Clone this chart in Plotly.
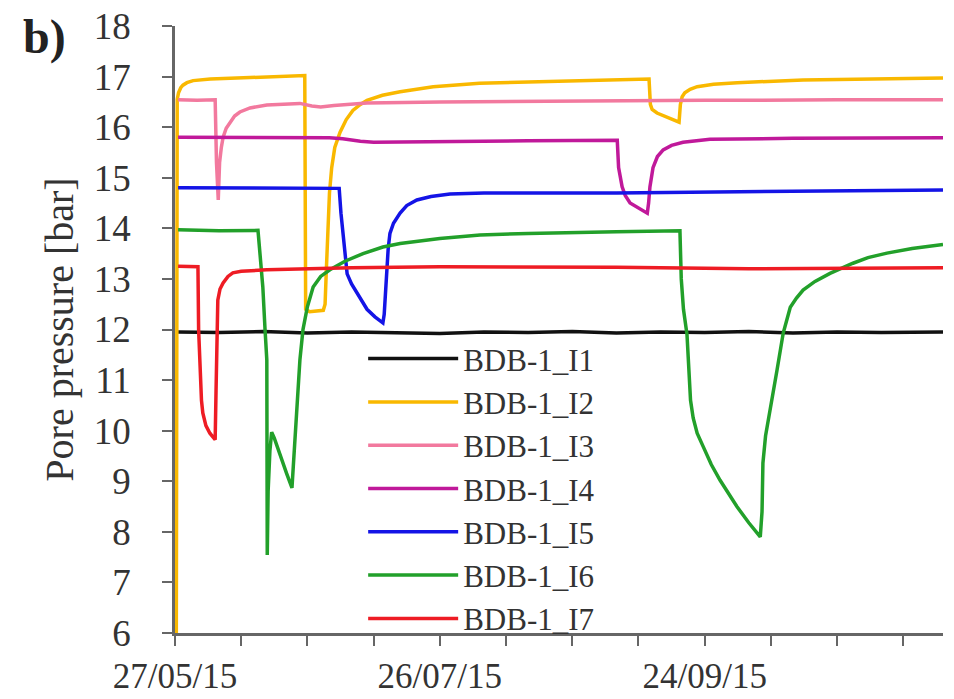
import pandas as pd
import plotly.graph_objects as go

START = "2015-05-27"
NAMES = ["BDB-1_I1", "BDB-1_I2", "BDB-1_I3", "BDB-1_I4", "BDB-1_I5", "BDB-1_I6", "BDB-1_I7"]
COLORS = ["#111111", "#F9B800", "#F2799E", "#C0199A", "#1414E6", "#22A02A", "#EE1C24"]

# days since 27/05/15 and pore pressure [bar]
i1_days = [0.7, 10, 20, 30, 40, 50, 60, 70, 80, 90, 100, 110, 120, 130, 140, 150, 160, 174]
i1_vals = [11.95, 11.94, 11.96, 11.93, 11.95, 11.94, 11.92, 11.95, 11.94, 11.96, 11.93, 11.95,
           11.94, 11.96, 11.93, 11.95, 11.94, 11.95]

i2_days = [0.3, 0.5, 0.8, 1.3, 1.8, 2.7, 4.1, 8, 17, 25, 29.4, 29.6, 30.5, 33.6, 34.0, 34.3, 34.6,
           35.0, 35.5, 36.2, 37.4, 38.8, 40.3, 42, 43.5, 47, 51, 58.5, 69, 89.5, 107.4, 107.7,
           108.1, 109.2, 114.2, 114.5, 114.9, 115.5, 116.7, 118.3, 122, 127.4, 142.3, 174]
i2_vals = [6.0, 16.55, 16.68, 16.78, 16.83, 16.88, 16.92, 16.95, 16.98, 17.0, 17.02, 12.4, 12.35,
           12.38, 12.5, 13.2, 14.0, 14.7, 15.2, 15.6, 15.9, 16.15, 16.33, 16.45, 16.53, 16.63,
           16.7, 16.8, 16.87, 16.92, 16.95, 16.45, 16.35, 16.28, 16.1, 16.45, 16.6, 16.68, 16.75,
           16.8, 16.85, 16.88, 16.93, 16.97]

i3_days = [0.7, 5, 9.1, 9.4, 9.8, 10.1, 10.5, 10.9, 11.6, 12.5, 13.5, 14.7, 17, 20.8, 28.3, 31,
           33, 36, 43.5, 60, 90, 120, 150, 174]
i3_vals = [16.54, 16.53, 16.54, 15.3, 14.56, 15.3, 15.6, 15.8, 15.98, 16.1, 16.22, 16.3, 16.38,
           16.44, 16.47, 16.42, 16.4, 16.43, 16.48, 16.5, 16.52, 16.53, 16.54, 16.54]

i4_days = [0.7, 20, 35, 38, 42, 45, 60, 80, 100.2, 100.5, 101.3, 102, 103.1, 105, 107.0, 107.3,
           107.6, 108.3, 109.3, 110.6, 112.5, 115.1, 121.2, 140, 174]
i4_vals = [15.8, 15.8, 15.79, 15.77, 15.72, 15.7, 15.72, 15.73, 15.74, 15.2, 14.82, 14.65, 14.5,
           14.4, 14.3, 14.5, 14.82, 15.2, 15.42, 15.55, 15.64, 15.7, 15.76, 15.78, 15.79]

i5_days = [0.7, 20, 37.2, 37.6, 38.1, 38.6, 39.0, 40, 41.2, 42.3, 43.5, 45.3, 47.1, 47.4, 47.8,
           48.3, 48.7, 49.5, 51.0, 52.5, 54.8, 58, 62.3, 70, 100, 120, 150, 174]
i5_vals = [14.8, 14.8, 14.79, 14.3, 13.9, 13.4, 13.1, 12.9, 12.72, 12.55, 12.4, 12.25, 12.13,
           12.3, 13.0, 13.6, 13.9, 14.1, 14.3, 14.45, 14.56, 14.63, 14.68, 14.7, 14.7, 14.72,
           14.74, 14.76]

i6_days = [0.7, 10, 18.8, 19.3, 19.9, 20.4, 20.8, 20.9, 21.1, 21.5, 21.9, 22.5, 24, 25.3, 26.5,
           26.8, 27.2, 27.6, 28.3, 29.0, 30, 31.3, 33, 35.1, 38.5, 42.6, 47.1, 51, 60, 69.1, 80,
           100, 114.2, 114.4, 114.7, 115.2, 116.0, 116.4, 116.8, 117.4, 118.3, 119.7, 121.5,
           123.5, 125.5, 127.3, 130, 132.6, 133.0, 133.2, 133.8, 134.8, 135.6, 136.4, 137.8,
           139.4, 140.8, 142.3, 145, 148.4, 153.6, 157, 161.3, 167, 174]
i6_vals = [13.97, 13.95, 13.96, 13.4, 12.84, 12.0, 11.4, 7.54, 8.8, 9.6, 9.97, 9.85, 9.45, 9.15,
           8.87, 9.3, 10.0, 10.6, 11.4, 12.0, 12.45, 12.84, 13.05, 13.18, 13.35, 13.5, 13.63,
           13.7, 13.8, 13.87, 13.9, 13.93, 13.95, 13.95, 13.0, 12.4, 11.9, 11.1, 10.6, 10.25,
           9.95, 9.68, 9.33, 9.02, 8.75, 8.5, 8.18, 7.9, 8.4, 9.36, 9.9, 10.35, 10.8, 11.2, 11.93,
           12.44, 12.62, 12.78, 12.95, 13.11, 13.31, 13.42, 13.51, 13.6, 13.68]

i7_days = [0.7, 5.2, 5.35, 5.7, 6.0, 6.3, 7.0, 7.9, 9.1, 9.3, 9.5, 9.7, 10.2, 10.9, 12, 13.1, 15,
           20.8, 40, 60, 100, 130, 174]
i7_vals = [13.25, 13.24, 12.0, 11.0, 10.6, 10.35, 10.1, 9.95, 9.82, 10.8, 12.0, 12.58, 12.8,
           12.92, 13.05, 13.12, 13.15, 13.18, 13.22, 13.24, 13.23, 13.2, 13.22]

SERIES = [(i1_days, i1_vals), (i2_days, i2_vals), (i3_days, i3_vals), (i4_days, i4_vals),
          (i5_days, i5_vals), (i6_days, i6_vals), (i7_days, i7_vals)]

t0 = pd.Timestamp(START)
DAY_MS = 86400000
FONT = "Liberation Serif"
TXT = "#333333"

fig = go.Figure()
for name, color, (d, v) in zip(NAMES, COLORS, SERIES):
    x = [t0 + pd.Timedelta(days=k) for k in d]
    fig.add_trace(go.Scatter(x=x, y=v, mode="lines", name=name,
                             line=dict(color=color, width=3.5)))

axis_common = dict(showline=True, linecolor="#666666", linewidth=2.5, ticks="outside",
                   tickcolor="#666666", tickwidth=2, ticklen=10, showgrid=False, zeroline=False,
                   automargin=False)

fig.update_xaxes(type="date", range=[t0, t0 + pd.Timedelta(days=174)],
                 tick0=START, dtick=60 * DAY_MS, tickformat="%d/%m/%y",
                 minor=dict(ticks="outside", tick0=START, dtick=15 * DAY_MS, ticklen=10,
                            tickcolor="#666666", tickwidth=2, showgrid=False),
                 ticklabelstandoff=0,
                 tickfont=dict(family=FONT, size=35, color=TXT), **axis_common)
fig.update_yaxes(range=[6, 18], dtick=1, ticklabelstandoff=24,
                 tickfont=dict(family=FONT, size=37, color=TXT),
                 title=dict(text="Pore pressure [bar]", standoff=8,
                            font=dict(family=FONT, size=40, color=TXT)),
                 **axis_common)

fig.add_annotation(text="<b>b)</b>", xref="paper", yref="paper", x=-0.2, y=0.982,
                   xanchor="left", yanchor="middle", showarrow=False,
                   font=dict(family=FONT, size=48, color="#222222"))

fig.update_layout(
    width=954, height=699,
    margin=dict(l=175, r=11, t=26, b=66),
    paper_bgcolor="white", plot_bgcolor="white",
    font=dict(family=FONT, color=TXT),
    legend=dict(x=0.245, y=0.496, xanchor="left", yanchor="top", bgcolor="rgba(0,0,0,0)",
                font=dict(family=FONT, size=31, color=TXT), itemwidth=90),
    showlegend=True,
)

fig.write_html("out.html")
